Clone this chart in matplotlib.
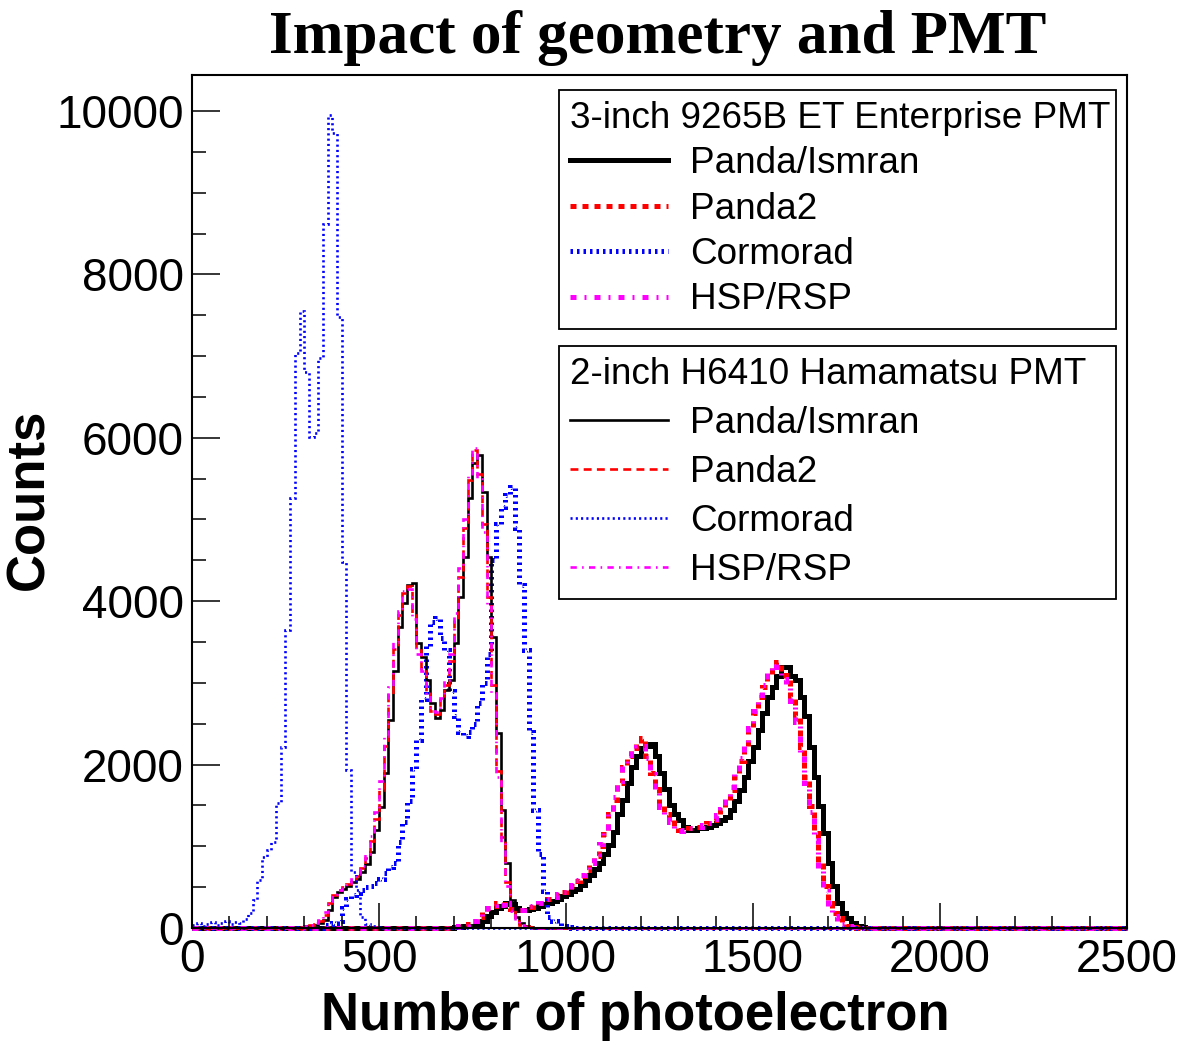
import numpy as np
import matplotlib.pyplot as plt
from matplotlib.lines import Line2D

plt.rcParams['font.family'] = ['Liberation Sans', 'DejaVu Sans']

# histogram binning (photoelectrons)
bin_width = 12.5
x_max = 2500

# ---- 2-inch H6410 Hamamatsu PMT (thin lines) ----
# each list = counts per bin, starting at the given bin edge
start_2in_ismran = 300
counts_2in_ismran = [20, 30, 40, 60, 100, 220, 380, 440, 480, 520, 560, 600, 680, 780, 930,
                     1200, 1480, 1900, 2550, 3150, 3680, 3980, 4200, 4220, 3490, 3320, 3040,
                     2750, 2570, 2670, 2910, 3040, 3490, 4050, 4540, 5260, 5690, 5790, 5340,
                     4540, 3560, 2390, 1440, 790, 340, 135, 60, 30, 10]

start_2in_panda2 = 300
counts_2in_panda2 = [25, 35, 50, 80, 160, 300, 410, 460, 500, 540, 580, 640, 730, 860, 1060,
                     1340, 1690, 2230, 2850, 3420, 3830, 4100, 4180, 3850, 3400, 3180, 2900,
                     2660, 2620, 2790, 2980, 3270, 3770, 4300, 4900, 5480, 5850, 5560, 4940,
                     4050, 2980, 1920, 1110, 560, 230, 90, 40, 20, 10]

start_2in_cormorad = 0
counts_2in_cormorad = [40, 60, 30, 50, 70, 40, 60, 80, 50, 70, 60, 110, 180, 340, 590, 870,
                       950, 1050, 1530, 2220, 3650, 5260, 7040, 7550, 6800, 6010, 6060, 6980,
                       8620, 9950, 9730, 7480, 4480, 1930, 690, 470, 130, 50, 20, 10]

start_2in_hsp = 300
counts_2in_hsp = [30, 40, 60, 100, 190, 330, 420, 470, 510, 550, 600, 660, 760, 900, 1120,
                  1420, 1800, 2350, 2950, 3500, 3880, 4120, 4150, 3780, 3350, 3150, 2880,
                  2650, 2640, 2820, 3030, 3350, 3850, 4400, 5000, 5550, 5880, 5500, 4850,
                  3950, 2880, 1850, 1050, 520, 210, 80, 35, 15, 5]

# ---- 3-inch 9265B ET Enterprise PMT (thick lines) ----
start_3in_ismran = 700
counts_3in_ismran = [10, 15, 20, 25, 30, 50, 90, 150, 200, 240, 270, 300, 290, 250, 220, 220,
                     230, 250, 270, 290, 310, 330, 360, 390, 420, 450, 480, 530, 590, 650,
                     720, 800, 900, 1020, 1170, 1400, 1570, 1770, 1970, 2100, 2200, 2230,
                     2250, 2100, 1900, 1700, 1500, 1400, 1320, 1240, 1200, 1200, 1220, 1230,
                     1240, 1260, 1280, 1320, 1360, 1440, 1560, 1690, 1850, 2050, 2220, 2420,
                     2630, 2830, 2950, 3080, 3200, 3200, 3080, 3030, 2830, 2590, 2220, 1850,
                     1490, 1160, 790, 510, 300, 180, 120, 60, 30, 15, 5]

start_3in_panda2 = 700
counts_3in_panda2 = [15, 20, 30, 50, 80, 130, 190, 240, 270, 300, 290, 260, 230, 220, 220,
                     240, 260, 280, 300, 320, 350, 380, 410, 440, 470, 520, 580, 640, 710,
                     790, 880, 1000, 1150, 1400, 1570, 1770, 1970, 2100, 2200, 2250, 2320,
                     2100, 1900, 1700, 1500, 1400, 1320, 1240, 1200, 1200, 1220, 1230, 1240,
                     1260, 1280, 1320, 1360, 1440, 1560, 1690, 1850, 2050, 2220, 2420, 2630,
                     2830, 2950, 3080, 3220, 3260, 3100, 3030, 2830, 2590, 2220, 1850, 1490,
                     1160, 790, 510, 300, 180, 120, 60, 30, 15, 5]

start_3in_cormorad = 350
counts_3in_cormorad = [40, 50, 60, 90, 250, 350, 400, 430, 470, 500, 520, 550, 600, 670, 750,
                       800, 1050, 1300, 1550, 1950, 2300, 2800, 3450, 3750, 3800, 3550, 3400,
                       2900, 2600, 2400, 2350, 2400, 2500, 2750, 3000, 3350, 4500, 4950, 5150,
                       5300, 5400, 4900, 4200, 3400, 2400, 1450, 900, 450, 130, 90, 60, 30, 10]

start_3in_hsp = 700
counts_3in_hsp = [15, 25, 35, 60, 90, 140, 200, 250, 280, 300, 280, 250, 225, 215, 225,
                  245, 265, 285, 305, 325, 355, 385, 415, 445, 480, 530, 590, 650, 720,
                  800, 900, 1030, 1180, 1420, 1600, 1800, 1990, 2120, 2200, 2220, 2230,
                  2080, 1880, 1680, 1480, 1380, 1300, 1230, 1190, 1200, 1220, 1230, 1240,
                  1260, 1290, 1330, 1380, 1460, 1590, 1720, 1880, 2080, 2250, 2450, 2650,
                  2850, 2980, 3120, 3230, 3200, 3050, 2980, 2780, 2520, 2150, 1780, 1420,
                  1080, 720, 450, 260, 150, 90, 50, 25, 10, 5]

legend_3in_title = '3-inch 9265B ET Enterprise PMT'
legend_2in_title = '2-inch H6410 Hamamatsu PMT'
labels = ['Panda/Ismran', 'Panda2', 'Cormorad', 'HSP/RSP']
colors = ['black', 'red', 'blue', 'magenta']

edges = np.arange(0, x_max + bin_width, bin_width)


def full_hist(start, vals):
    h = np.zeros(len(edges) - 1)
    i0 = int(round(start / bin_width))
    h[i0:i0 + len(vals)] = vals
    return h


thick = [(start_3in_ismran, counts_3in_ismran), (start_3in_panda2, counts_3in_panda2),
         (start_3in_cormorad, counts_3in_cormorad), (start_3in_hsp, counts_3in_hsp)]
thin = [(start_2in_ismran, counts_2in_ismran), (start_2in_panda2, counts_2in_panda2),
        (start_2in_cormorad, counts_2in_cormorad), (start_2in_hsp, counts_2in_hsp)]

lw_thick, lw_thin = 3.6, 1.9
styles_thick = ['-', (0, (1.2, 1.2)), (0, (0.5, 0.8)), (0, (1.2, 1.6, 0.4, 1.6))]
styles_thin = ['-', (0, (3, 2)), (0, (0.8, 1.2)), (0, (2.4, 2, 0.6, 2))]

fig = plt.figure(figsize=(11.82, 10.5), dpi=100)
ax = fig.add_axes([192 / 1182, 122 / 1050, 935 / 1182, 853 / 1050])

for (s, v), c, ls in zip(thick, colors, styles_thick):
    ax.stairs(full_hist(s, v), edges, baseline=None, color=c, lw=lw_thick, ls=ls, clip_on=False)
for (s, v), c, ls in zip(thin, colors, styles_thin):
    ax.stairs(full_hist(s, v), edges, baseline=None, color=c, lw=lw_thin, ls=ls, clip_on=False)

ax.set_xlim(0, x_max)
ax.set_ylim(0, 10440)
ax.set_xticks(np.arange(0, 2501, 500))
ax.set_xticks(np.arange(0, 2501, 100), minor=True)
ax.set_yticks(np.arange(0, 10001, 2000))
ax.set_yticks(np.arange(0, 10001, 500), minor=True)
ax.tick_params(axis='both', which='both', direction='in', top=False, right=False,
               width=1.1, labelsize=33)
ax.tick_params(axis='x', which='major', length=18, pad=7)
ax.tick_params(axis='x', which='minor', length=9)
ax.tick_params(axis='y', which='major', length=20, pad=6)
ax.tick_params(axis='y', which='minor', length=10)
for sp in ax.spines.values():
    sp.set_linewidth(1.5)

ax.set_xlabel('Number of photoelectron', fontsize=38, fontweight='bold', va='center')
ax.xaxis.set_label_coords((635 - 192) / 935, (928 - 1016) / 853)
ax.set_ylabel('Counts', fontsize=38, fontweight='bold', va='center')
ax.yaxis.set_label_coords((29 - 192) / 935, 0.502)

fig.text(658 / 1182, 1 - 38 / 1050, 'Impact of geometry and PMT', ha='center', va='center',
         fontsize=44, fontweight='bold', family=['Liberation Serif', 'DejaVu Serif'])

h_thick = [Line2D([], [], color=c, lw=lw_thick, ls=ls) for c, ls in zip(colors, styles_thick)]
h_thin = [Line2D([], [], color=c, lw=lw_thin, ls=ls) for c, ls in zip(colors, styles_thin)]

leg_kw = dict(loc='upper left', mode='expand', fontsize=26.6, title_fontsize=26.6,
              alignment='left', fancybox=False, framealpha=1, edgecolor='black',
              handlelength=2.65, handletextpad=0.6, borderaxespad=0, borderpad=0.3)
x0 = (559 - 192) / 935
w = (1116 - 559) / 935
leg1 = ax.legend(h_thick, labels, title=legend_3in_title, labelspacing=0.28,
                 bbox_to_anchor=(x0, (928 - 90) / 853, w, 0.0), **leg_kw)
leg1.get_frame().set_linewidth(1.3)
ax.add_artist(leg1)
leg2 = ax.legend(h_thin, labels, title=legend_2in_title, labelspacing=0.38,
                 bbox_to_anchor=(x0, (928 - 346) / 853, w, 0.0), **leg_kw)
leg2.get_frame().set_linewidth(1.3)

fig.savefig('out.png', dpi=100)
